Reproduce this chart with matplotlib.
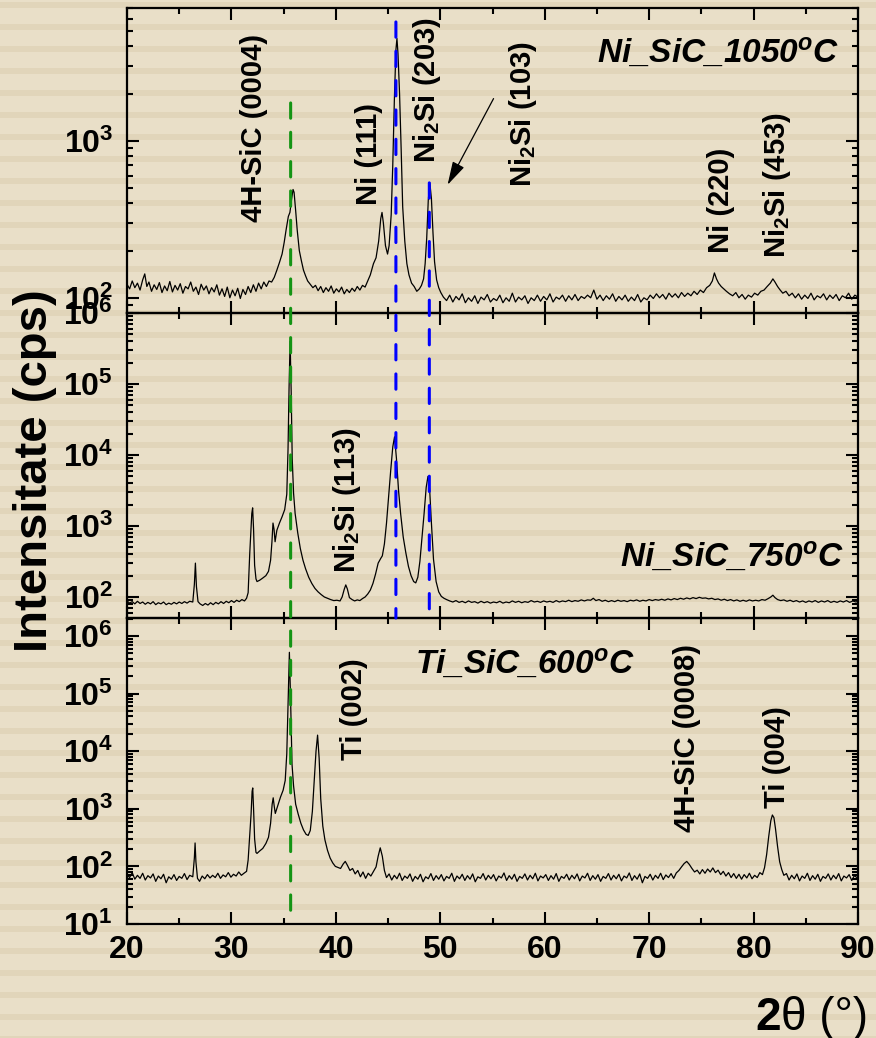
import numpy as np
import matplotlib
matplotlib.use("Agg")
import matplotlib.pyplot as plt
from matplotlib.patches import Rectangle, ConnectionPatch
from matplotlib.ticker import LogLocator, NullFormatter, MultipleLocator

plt.rcParams["font.family"] = "Liberation Sans"
plt.rcParams["mathtext.fontset"] = "custom"
plt.rcParams["mathtext.rm"] = "Liberation Sans:bold"
plt.rcParams["mathtext.bf"] = "Liberation Sans:bold"
plt.rcParams["mathtext.it"] = "Liberation Sans:bold:italic"

# ---------------- data: (2theta, cps) ----------------
# Ni_SiC_1050oC (top)
ni1050_low = [(20.0, 122), (20.25, 114), (20.5, 128), (20.75, 116), (21.0, 124), (21.25, 112),
              (21.5, 130), (21.7, 142), (21.9, 118), (22.1, 126), (22.35, 110), (22.6, 121),
              (22.85, 113), (23.1, 125), (23.35, 108), (23.6, 119), (23.85, 111), (24.1, 127),
              (24.35, 109), (24.6, 120), (24.85, 112), (25.1, 123), (25.35, 107), (25.6, 118),
              (25.85, 114), (26.1, 126), (26.35, 110), (26.6, 117), (26.85, 105), (27.1, 122),
              (27.35, 112), (27.6, 119), (27.85, 106), (28.1, 116), (28.35, 109), (28.6, 121),
              (28.85, 104), (29.1, 114), (29.35, 102), (29.6, 117), (29.85, 100), (30.1, 112),
              (30.35, 103), (30.6, 115), (30.85, 99), (31.1, 113), (31.35, 105), (31.6, 118),
              (31.85, 108), (32.1, 121), (32.35, 110), (32.6, 124), (32.85, 114), (33.1, 126),
              (33.35, 118), (33.6, 128)]
ni1050_sic = [(33.85, 126), (34.1, 135), (34.35, 150), (34.6, 168), (34.85, 190), (35.05, 225),
              (35.25, 275), (35.45, 330), (35.6, 350), (35.75, 420), (35.9, 490), (36.0, 470),
              (36.15, 360), (36.3, 270), (36.5, 200), (36.7, 172), (36.9, 150), (37.1, 138),
              (37.3, 128), (37.55, 122), (37.8, 116), (38.05, 120), (38.3, 111), (38.55, 118),
              (38.8, 108), (39.05, 116), (39.3, 110), (39.55, 119), (39.8, 107), (40.05, 114),
              (40.3, 109), (40.55, 117), (40.8, 106), (41.05, 113), (41.3, 108), (41.55, 115),
              (41.8, 110), (42.05, 118), (42.3, 112), (42.55, 120), (42.8, 117), (43.05, 128)]
ni1050_ni2si = [(43.3, 140), (43.6, 165), (43.85, 180), (44.1, 230), (44.3, 320), (44.42, 350),
                (44.55, 300), (44.75, 215), (44.95, 190), (45.1, 215), (45.3, 340), (45.45, 700),
                (45.6, 1800), (45.75, 3800), (45.85, 4500), (45.95, 3600), (46.1, 2000),
                (46.25, 900), (46.4, 380), (46.6, 230), (46.8, 165), (47.0, 140), (47.25, 124),
                (47.5, 118), (47.75, 110), (48.0, 114), (48.2, 120), (48.4, 132), (48.55, 165),
                (48.7, 240), (48.85, 420), (49.0, 540), (49.15, 430), (49.3, 260), (49.45, 170),
                (49.65, 130), (49.85, 116), (50.05, 108)]
ni1050_high = [(50.3, 101), (50.6, 96), (50.9, 104), (51.2, 94), (51.5, 102), (51.8, 97),
               (52.1, 106), (52.4, 93), (52.7, 100), (53.0, 95), (53.3, 103), (53.6, 92),
               (53.9, 101), (54.2, 97), (54.5, 105), (54.8, 94), (55.1, 99), (55.4, 96),
               (55.7, 104), (56.0, 93), (56.3, 100), (56.6, 95), (56.9, 107), (57.2, 94),
               (57.5, 101), (57.8, 97), (58.1, 103), (58.4, 92), (58.7, 100), (59.0, 96),
               (59.3, 104), (59.6, 95), (59.9, 102), (60.2, 97), (60.5, 106), (60.8, 94),
               (61.1, 101), (61.4, 98), (61.7, 104), (62.0, 95), (62.3, 103), (62.6, 97),
               (62.9, 105), (63.2, 96), (63.5, 102), (63.8, 99), (64.1, 104), (64.4, 100),
               (64.7, 112), (65.0, 98), (65.3, 104), (65.6, 96), (65.9, 103), (66.2, 98),
               (66.5, 106), (66.8, 95), (67.1, 102), (67.4, 97), (67.7, 104), (68.0, 95),
               (68.3, 101), (68.6, 96), (68.9, 105), (69.2, 94), (69.5, 100), (69.8, 97),
               (70.1, 104), (70.4, 99), (70.7, 106), (71.0, 100), (71.3, 105), (71.6, 98),
               (71.9, 107), (72.2, 101), (72.5, 106), (72.8, 100), (73.1, 108), (73.4, 102),
               (73.7, 107), (74.0, 103), (74.3, 110), (74.6, 105), (74.9, 112), (75.2, 108),
               (75.5, 116), (75.8, 120), (76.05, 128), (76.25, 144), (76.45, 132), (76.65, 124),
               (76.9, 118), (77.15, 114), (77.4, 110), (77.7, 106), (78.0, 103), (78.3, 108),
               (78.6, 100), (78.9, 105), (79.2, 98), (79.5, 104), (79.8, 101), (80.1, 107),
               (80.4, 104), (80.7, 110), (81.0, 112), (81.3, 118), (81.6, 124), (81.85, 132),
               (82.05, 126), (82.3, 118), (82.55, 112), (82.8, 107), (83.1, 110), (83.4, 103),
               (83.7, 107), (84.0, 100), (84.3, 106), (84.6, 98), (84.9, 104), (85.2, 99),
               (85.5, 107), (85.8, 97), (86.1, 103), (86.4, 100), (86.7, 106), (87.0, 97),
               (87.3, 104), (87.6, 99), (87.9, 105), (88.2, 96), (88.5, 103), (88.8, 100),
               (89.1, 107), (89.4, 98), (89.7, 104), (90.0, 101)]

# Ni_SiC_750oC (middle)
ni750_low = [(20.0, 88), (20.25, 82), (20.5, 86), (20.75, 80), (21.0, 87), (21.25, 81), (21.5, 85),
             (21.75, 79), (22.0, 84), (22.25, 80), (22.5, 86), (22.75, 78), (23.0, 83), (23.25, 80),
             (23.5, 85), (23.75, 78), (24.0, 82), (24.25, 79), (24.5, 84), (24.75, 80), (25.0, 85),
             (25.25, 81), (25.5, 86), (25.75, 82), (26.0, 87), (26.3, 85), (26.45, 150),
             (26.55, 300), (26.65, 140), (26.8, 86), (27.0, 80), (27.25, 76), (27.5, 81),
             (27.75, 77), (28.0, 83), (28.25, 78), (28.5, 84), (28.75, 80), (29.0, 86), (29.25, 81),
             (29.5, 87), (29.75, 83), (30.0, 89), (30.25, 84), (30.5, 90), (30.75, 86), (31.0, 92),
             (31.25, 88), (31.45, 96)]
ni750_sic = [(31.6, 115), (31.75, 400), (31.85, 800), (31.95, 1500), (32.03, 1800), (32.12, 900),
             (32.22, 280), (32.35, 180), (32.45, 165), (32.7, 172), (33.0, 185), (33.3, 200),
             (33.55, 230), (33.75, 330), (33.88, 600), (33.98, 1100), (34.08, 900), (34.18, 600),
             (34.35, 870), (34.6, 1100), (34.85, 1350), (35.1, 1700), (35.3, 2800), (35.42, 12000),
             (35.52, 90000), (35.62, 400000), (35.72, 80000), (35.82, 9000), (35.95, 2900),
             (36.1, 1500), (36.35, 800), (36.6, 480), (36.85, 330), (37.1, 250), (37.4, 190),
             (37.7, 155), (38.0, 132), (38.3, 118), (38.6, 108), (38.9, 100), (39.2, 96),
             (39.5, 92), (39.8, 89), (40.1, 90), (40.4, 88), (40.6, 100), (40.8, 128),
             (40.95, 148), (41.1, 130), (41.3, 98), (41.55, 92), (41.8, 88), (42.05, 91),
             (42.3, 89), (42.55, 95), (42.8, 100)]
ni750_ni2si = [(43.05, 110), (43.3, 125), (43.55, 155), (43.8, 210), (44.05, 300), (44.3, 350),
               (44.45, 380), (44.65, 560), (44.85, 1100), (45.05, 2600), (45.25, 6000),
               (45.45, 13000), (45.62, 18000), (45.8, 9000), (46.0, 3200), (46.2, 1500),
               (46.45, 700), (46.7, 420), (46.95, 270), (47.2, 200), (47.45, 165), (47.65, 158),
               (47.85, 190), (48.05, 320), (48.25, 700), (48.45, 1500), (48.65, 3500),
               (48.82, 5000), (48.98, 3300), (49.15, 1100), (49.35, 340), (49.6, 165),
               (49.85, 118), (50.1, 102), (50.35, 96), (50.6, 92)]
ni750_high = [(50.9, 88), (51.2, 85), (51.5, 89), (51.8, 84), (52.1, 87), (52.4, 83), (52.7, 88),
              (53.0, 84), (53.3, 86), (53.6, 82), (53.9, 87), (54.2, 83), (54.5, 86), (54.8, 82),
              (55.1, 85), (55.4, 83), (55.7, 87), (56.0, 82), (56.3, 85), (56.6, 83), (56.9, 88),
              (57.2, 84), (57.5, 87), (57.8, 83), (58.1, 86), (58.4, 84), (58.7, 89), (59.0, 85),
              (59.3, 87), (59.6, 84), (59.9, 88), (60.2, 85), (60.5, 87), (60.8, 84), (61.1, 89),
              (61.4, 85), (61.7, 88), (62.0, 86), (62.3, 90), (62.6, 86), (62.9, 89), (63.2, 87),
              (63.5, 91), (63.8, 88), (64.1, 91), (64.4, 90), (64.65, 96), (64.9, 89), (65.2, 92),
              (65.5, 87), (65.8, 90), (66.1, 86), (66.4, 89), (66.7, 86), (67.0, 90), (67.3, 87),
              (67.6, 89), (67.9, 86), (68.2, 90), (68.5, 88), (68.8, 91), (69.1, 87), (69.4, 90),
              (69.7, 88), (70.0, 92), (70.3, 89), (70.6, 92), (70.9, 90), (71.2, 93), (71.5, 90),
              (71.8, 94), (72.1, 91), (72.4, 95), (72.7, 92), (73.0, 96), (73.3, 93), (73.6, 97),
              (73.9, 94), (74.2, 98), (74.5, 95), (74.8, 99), (75.1, 96), (75.4, 97), (75.7, 94),
              (76.0, 96), (76.3, 92), (76.6, 94), (76.9, 90), (77.2, 93), (77.5, 89), (77.8, 92),
              (78.1, 88), (78.4, 91), (78.7, 87), (79.0, 90), (79.3, 87), (79.6, 91), (79.9, 88),
              (80.2, 90), (80.5, 88), (80.8, 92), (81.1, 90), (81.4, 95), (81.65, 100),
              (81.85, 106), (82.05, 98), (82.3, 92), (82.6, 89), (82.9, 91), (83.2, 87), (83.5, 90),
              (83.8, 86), (84.1, 89), (84.4, 85), (84.7, 88), (85.0, 84), (85.3, 88), (85.6, 85),
              (85.9, 89), (86.2, 84), (86.5, 88), (86.8, 85), (87.1, 89), (87.4, 84), (87.7, 87),
              (88.0, 84), (88.3, 88), (88.6, 85), (88.9, 89), (89.2, 84), (89.5, 88), (89.8, 85),
              (90.0, 87)]

# Ti_SiC_600oC (bottom)
ti600_low = [(20.0, 72), (20.25, 64), (20.5, 78), (20.75, 60), (21.0, 70), (21.25, 62), (21.5, 76),
             (21.75, 58), (22.0, 69), (22.25, 63), (22.5, 74), (22.75, 55), (23.0, 68), (23.25, 61),
             (23.5, 73), (23.75, 52), (24.0, 66), (24.25, 60), (24.5, 72), (24.75, 57), (25.0, 67),
             (25.25, 62), (25.5, 75), (25.75, 59), (26.0, 70), (26.3, 66), (26.45, 140),
             (26.52, 255), (26.6, 120), (26.75, 62), (26.95, 55), (27.2, 68), (27.45, 61),
             (27.7, 72), (27.95, 63), (28.2, 70), (28.45, 64), (28.7, 76), (28.95, 62), (29.2, 71),
             (29.45, 66), (29.7, 78), (29.95, 65), (30.2, 73), (30.45, 68), (30.7, 80), (30.95, 70),
             (31.2, 76), (31.45, 82)]
ti600_sic = [(31.6, 129), (31.75, 350), (31.88, 800), (31.98, 2000), (32.04, 2300), (32.12, 1000),
             (32.22, 300), (32.35, 175), (32.45, 168), (32.7, 185), (33.0, 205), (33.3, 250),
             (33.55, 320), (33.75, 560), (33.9, 1200), (34.0, 1550), (34.1, 1100), (34.2, 830),
             (34.45, 1150), (34.7, 1600), (34.95, 2100), (35.15, 3100), (35.3, 9000),
             (35.42, 60000), (35.55, 520000), (35.68, 60000), (35.8, 6000), (35.95, 2500),
             (36.15, 1200), (36.4, 800), (36.65, 560), (36.9, 430), (37.15, 360), (37.35, 345),
             (37.55, 420), (37.75, 900), (37.95, 3500), (38.1, 10000), (38.25, 19000),
             (38.4, 7500), (38.55, 1500), (38.75, 500), (38.95, 290), (39.2, 190), (39.45, 140),
             (39.7, 115), (39.95, 100), (40.2, 96), (40.45, 92), (40.7, 110), (40.9, 122),
             (41.1, 105), (41.35, 85), (41.6, 92), (41.85, 74), (42.1, 85), (42.35, 66),
             (42.6, 80), (42.85, 62), (43.1, 76), (43.35, 68), (43.6, 82), (43.85, 98),
             (44.05, 150), (44.25, 210), (44.45, 150), (44.65, 85), (44.85, 64)]
ti600_mid = [(45.1, 74), (45.35, 58), (45.6, 70), (45.85, 61), (46.1, 76), (46.35, 57), (46.6, 68),
             (46.85, 62), (47.1, 74), (47.35, 55), (47.6, 67), (47.85, 60), (48.1, 73), (48.35, 54),
             (48.6, 66), (48.85, 61), (49.1, 75), (49.35, 57), (49.6, 69), (49.85, 60), (50.1, 72),
             (50.35, 56), (50.6, 67), (50.85, 62), (51.1, 76), (51.35, 55), (51.6, 68), (51.85, 61),
             (52.1, 73), (52.35, 57), (52.6, 69), (52.85, 60), (53.1, 74), (53.35, 54), (53.6, 66),
             (53.85, 62), (54.1, 75), (54.35, 58), (54.6, 70), (54.85, 61), (55.1, 72), (55.35, 56),
             (55.6, 68), (55.85, 63), (56.1, 77), (56.35, 57), (56.6, 69), (56.85, 60), (57.1, 73),
             (57.35, 55), (57.6, 67), (57.85, 62), (58.1, 74), (58.35, 58), (58.6, 70), (58.85, 61),
             (59.1, 76), (59.35, 56), (59.6, 68), (59.85, 63), (60.1, 72), (60.35, 57), (60.6, 69),
             (60.85, 60), (61.1, 75), (61.35, 55), (61.6, 67), (61.85, 62), (62.1, 73), (62.35, 58),
             (62.6, 70), (62.85, 61), (63.1, 74), (63.35, 56), (63.6, 68), (63.85, 63), (64.1, 76),
             (64.35, 57), (64.6, 69), (64.85, 60), (65.1, 72), (65.35, 55), (65.6, 67), (65.85, 62),
             (66.1, 75), (66.35, 58), (66.6, 70), (66.85, 61), (67.1, 73), (67.35, 56), (67.6, 68),
             (67.85, 63), (68.1, 77), (68.35, 57), (68.6, 69), (68.85, 60), (69.1, 74), (69.35, 52),
             (69.6, 67), (69.85, 62), (70.1, 73), (70.35, 58), (70.6, 70), (70.85, 62), (71.1, 76),
             (71.35, 59), (71.6, 71), (71.85, 64), (72.1, 75), (72.35, 62)]
ti600_high = [(72.6, 77), (72.85, 85), (73.1, 98), (73.35, 112), (73.6, 122), (73.85, 108),
              (74.1, 92), (74.35, 80), (74.6, 86), (74.85, 74), (75.1, 88), (75.35, 76), (75.6, 90),
              (75.85, 80), (76.1, 94), (76.35, 78), (76.6, 86), (76.85, 72), (77.1, 82), (77.35, 68),
              (77.6, 78), (77.85, 64), (78.1, 75), (78.35, 62), (78.6, 73), (78.85, 60), (79.1, 72),
              (79.35, 63), (79.6, 76), (79.85, 61), (80.1, 70), (80.35, 64), (80.6, 78), (80.85, 72),
              (81.05, 95), (81.25, 160), (81.45, 330), (81.65, 620), (81.8, 780), (81.95, 700),
              (82.1, 450), (82.3, 220), (82.5, 120), (82.7, 88), (82.9, 70), (83.15, 75),
              (83.4, 58), (83.65, 70), (83.9, 61), (84.15, 74), (84.4, 56), (84.65, 68), (84.9, 62),
              (85.15, 76), (85.4, 57), (85.65, 69), (85.9, 60), (86.15, 73), (86.4, 55), (86.65, 67),
              (86.9, 62), (87.15, 74), (87.4, 58), (87.65, 70), (87.9, 61), (88.15, 75), (88.4, 56),
              (88.65, 68), (88.9, 63), (89.15, 72), (89.4, 57), (89.65, 69), (90.0, 62)]

# y-axis decades labelled on each panel
top_exp = [2, 3]
mid_exp = [2, 3, 4, 5, 6]
bot_exp = [1, 2, 3, 4, 5, 6]

# peak labels: (text, 2theta, cps at the start of the text)
top_labels = [("4H-SiC (0004)", 32.2, 305), ("Ni (111)", 43.16, 391),
              ("Ni$_2$Si (203)", 48.7, 724), ("Ni$_2$Si (103)", 57.9, 509),
              ("Ni (220)", 76.84, 194), ("Ni$_2$Si (453)", 82.28, 180)]
mid_labels = [("Ni$_2$Si (113)", 41.03, 218)]
bot_labels = [("Ti (002)", 41.74, 7050), ("4H-SiC (0008)", 73.6, 395), ("Ti (004)", 82.2, 1030)]

BG = "#E9DFC8"
STRIPE = "#E1D5BA"
W, H = 876, 1038


def unzip(*segs):
    pts = [p for s in segs for p in s]
    return np.array([p[0] for p in pts]), np.array([p[1] for p in pts])


fig = plt.figure(figsize=(W / 100, H / 100), dpi=100)
fig.patch.set_facecolor(BG)
for y0 in np.arange(2, H, 22):
    fig.add_artist(Rectangle((0, 1 - (y0 + 6) / H), 1, 6 / H, transform=fig.transFigure,
                             facecolor=STRIPE, edgecolor="none", zorder=-10))

left, right = 127 / W, 858 / W
edges = [8, 313, 618, 924]
axes = []
for i in range(3):
    b = 1 - edges[i + 1] / H
    t = 1 - edges[i] / H
    ax = fig.add_axes([left, b, right - left, t - b])
    ax.set_facecolor("none")
    axes.append(ax)
ax_top, ax_mid, ax_bot = axes


def style(ax, ylim, exps, show_x):
    ax.set_yscale("log")
    ax.set_xlim(20, 90)
    ax.set_ylim(*ylim)
    ticks = [10.0 ** e for e in exps]
    ax.set_yticks(ticks)
    ax.set_yticklabels([r"$10^{%d}$" % e for e in exps], fontsize=23)
    ax.yaxis.set_minor_locator(LogLocator(base=10, subs=np.arange(2, 10), numticks=40))
    ax.yaxis.set_minor_formatter(NullFormatter())
    ax.xaxis.set_major_locator(MultipleLocator(10))
    ax.xaxis.set_minor_locator(MultipleLocator(5))
    ax.tick_params(which="both", direction="in", top=True, right=True, width=1.5, color="k")
    ax.tick_params(which="major", length=8.5)
    ax.tick_params(which="minor", length=4.5)
    ax.tick_params(axis="y", which="major", pad=10)
    ax.tick_params(axis="x", which="major", pad=8, labelbottom=show_x)
    for lab in ax.get_xticklabels():
        lab.set_fontsize(23)
        lab.set_fontweight("bold")
    for sp in ax.spines.values():
        sp.set_linewidth(1.6)


for ax, segs in ((ax_top, (ni1050_low, ni1050_sic, ni1050_ni2si, ni1050_high)),
                 (ax_mid, (ni750_low, ni750_sic, ni750_ni2si, ni750_high)),
                 (ax_bot, (ti600_low, ti600_sic, ti600_mid, ti600_high))):
    tth, cps = unzip(*segs)
    ax.plot(tth, cps, color="k", lw=0.9)

style(ax_top, (80, 7030), top_exp, False)
style(ax_mid, (50.6, 1e6), mid_exp, False)
style(ax_bot, (10, 2.05e6), bot_exp, True)

for ax, labels in ((ax_top, top_labels), (ax_mid, mid_labels), (ax_bot, bot_labels)):
    for txt, x, y in labels:
        ax.text(x, y, txt, rotation=90, ha="center", va="bottom", fontsize=21,
                fontweight="bold")

ax_top.text(0.974, 0.852, r"Ni_SiC_1050$^o$C", transform=ax_top.transAxes, ha="right",
            va="center", fontsize=24, fontweight="bold", fontstyle="italic")
ax_mid.text(0.98, 0.2, r"Ni_SiC_750$^o$C", transform=ax_mid.transAxes, ha="right",
            va="center", fontsize=24, fontweight="bold", fontstyle="italic")
ax_bot.text(0.544, 0.85, r"Ti_SiC_600$^o$C", transform=ax_bot.transAxes, ha="center",
            va="center", fontsize=24, fontweight="bold", fontstyle="italic")

ax_top.annotate("", xy=(50.7, 525), xytext=(55.1, 1860),
                arrowprops=dict(arrowstyle="-|>,head_length=0.8,head_width=0.22", color="k",
                                lw=0.9, mutation_scale=18, shrinkA=0, shrinkB=0))


def dashed(x, axA, yA, axB, yB, color):
    con = ConnectionPatch(xyA=(x, yA), coordsA="data", axesA=axA, xyB=(x, yB), coordsB="data",
                          axesB=axB, arrowstyle="-", color=color, lw=2.2,
                          linestyle=(0, (5, 4.6)), zorder=5)
    fig.add_artist(con)


dashed(35.67, ax_top, 1745, ax_bot, 11.7, "#149414")
dashed(45.75, ax_top, 5730, ax_mid, 50.6, "#0000FF")
dashed(48.95, ax_top, 540, ax_mid, 50.6, "#0000FF")

fig.text(0.040, 0.547, "Intensitate (cps)", rotation=90, ha="center", va="center",
         fontsize=34, fontweight="bold")
t2 = fig.text(755 / W, 0.008, "2", fontsize=33, fontweight="bold", ha="left", va="baseline")
ax_bot.annotate(r"θ (°)", xy=(1, 0), xycoords=t2, ha="left", va="bottom", fontsize=33,
                annotation_clip=False)

fig.savefig("out.png", dpi=100, facecolor=fig.get_facecolor())
